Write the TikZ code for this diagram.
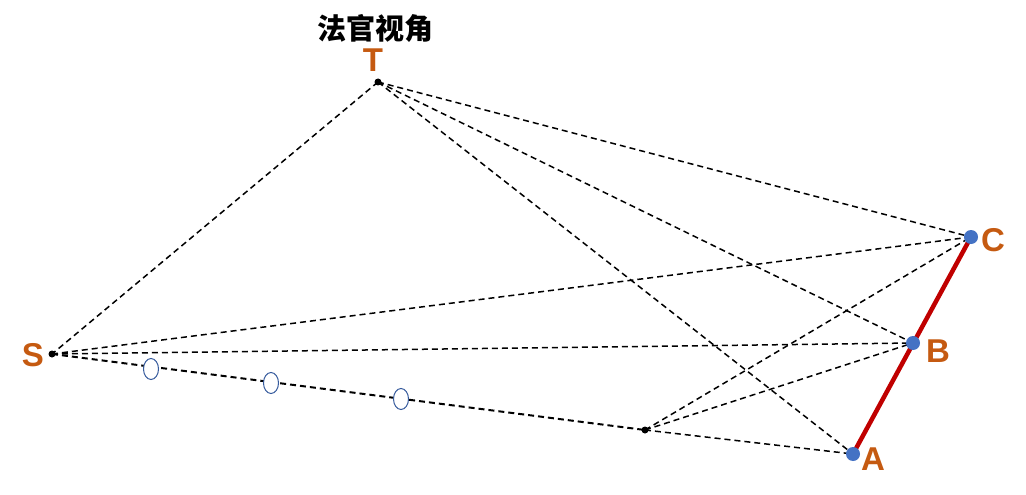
\documentclass[tikz,border=0pt]{standalone}
\usepackage{fontspec}
\usetikzlibrary{shapes.geometric}
\setsansfont{Liberation Sans}
\newfontfamily\cjk{Noto Sans CJK SC}
\definecolor{lbl}{HTML}{C55A11}
\definecolor{dotblue}{HTML}{4472C4}
\definecolor{redline}{HTML}{C00000}
\begin{document}
\begin{tikzpicture}[x=1pt,y=-1pt,
  dl/.style={draw=black,line width=1.5pt,dash pattern=on 6pt off 4pt},
  bdot/.style={circle,fill=dotblue,inner sep=0pt,minimum size=14pt},
  kdot/.style={circle,fill=black,inner sep=0pt,minimum size=7pt},
  ring/.style={ellipse,draw=dotblue!80!black,fill=white,line width=1pt,inner sep=0pt,minimum width=15pt,minimum height=21pt},
  lab/.style={font=\sffamily\bfseries\fontsize{33}{33}\selectfont,text=lbl,inner sep=0pt}]
\useasboundingbox (0,0) rectangle (1026,495);
\coordinate (T) at (378,82);
\coordinate (S) at (52,354);
\coordinate (P) at (645,430);
\coordinate (A) at (853,454);
\coordinate (B) at (913,343);
\coordinate (C) at (971,237);
% dashed lines
\draw[dl] (T) -- (S);
\draw[dl] (T) -- (C);
\draw[dl] (T) -- (B);
\draw[dl] (T) -- (A);
\draw[dl] (S) -- (C);
\draw[dl] (S) -- (B);
\draw[dl,line width=2pt] (S) -- (P);
\draw[dl] (P) -- (C);
\draw[dl] (P) -- (B);
\draw[dl] (P) -- (A);
% red segment
\draw[redline,line width=4.5pt] (A) -- (C);
% dots
\node[kdot] (Td) at (T) {};
\node[kdot] (Sd) at (S) {};
\node[kdot] (Pd) at (P) {};
\node[bdot] (Ad) at (A) {};
\node[bdot] (Bd) at (B) {};
\node[bdot] (Cd) at (C) {};
% rings on S-P
\node[ring] (r1) at (151,369) {};
\node[ring] (r2) at (271,383) {};
\node[ring] (r3) at (401,399) {};
% labels
\node[lab] (Tl) at (373,60) {T};
\node[lab] (Sl) at (33,355) {S};
\node[lab] (Al) at (873,459) {A};
\node[lab] (Bl) at (938,351) {B};
\node[lab] (Cl) at (993,240) {C};
\node[font=\cjk\bfseries\fontsize{29}{29}\selectfont,inner sep=0pt] (title) at (375,28) {法官视角};
\end{tikzpicture}
\end{document}
